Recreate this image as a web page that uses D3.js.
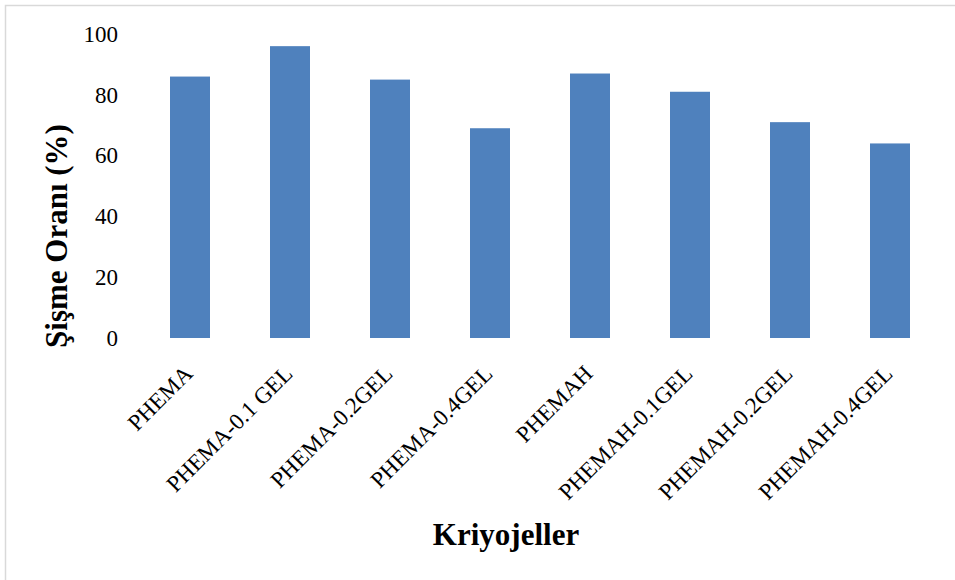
<!DOCTYPE html>
<html>
<head>
<meta charset="utf-8">
<script src="https://cdn.jsdelivr.net/npm/d3@7"></script>
<style>
  body { margin: 0; background: #fff; }
  text { font-family: "Liberation Serif", "Times New Roman", serif; }
</style>
</head>
<body>
<div id="chart"></div>
<script>
// data
const categories = ["PHEMA", "PHEMA-0.1 GEL", "PHEMA-0.2GEL", "PHEMA-0.4GEL",
  "PHEMAH", "PHEMAH-0.1GEL", "PHEMAH-0.2GEL", "PHEMAH-0.4GEL"];
const values = [86, 96, 85, 69, 87, 81, 71, 64];
const yTicks = [0, 20, 40, 60, 80, 100];

const width = 955, height = 580;
const margin = { top: 34, right: 15, bottom: 242, left: 140 };

const svg = d3.select("#chart")
    .append("svg")
    .attr("width", width)
    .attr("height", height);

// outer frame (only top/left edges visible in reference)
svg.append("rect")
    .attr("x", 5.5).attr("y", 5.5)
    .attr("width", width + 20).attr("height", height + 20)
    .attr("fill", "none")
    .attr("stroke", "#d9d9d9")
    .attr("stroke-width", 1.5);

const x = d3.scaleBand()
    .domain(categories)
    .range([margin.left, margin.left + 800])
    .paddingInner(0.6)
    .paddingOuter(0.3);

const y = d3.scaleLinear()
    .domain([0, 100])
    .range([height - margin.bottom, margin.top]);

// y axis: labels only
svg.append("g")
    .attr("transform", `translate(${margin.left - 22},0)`)
    .call(d3.axisLeft(y).tickValues(yTicks).tickSize(0).tickPadding(0))
    .call(g => g.select(".domain").remove())
    .call(g => g.selectAll("text")
        .attr("font-family", "Liberation Serif")
        .attr("font-size", "23px")
        .attr("fill", "#000"));

// bars
svg.append("g")
    .selectAll("rect")
    .data(values)
    .join("rect")
    .attr("x", (d, i) => x(categories[i]))
    .attr("y", d => y(d))
    .attr("width", x.bandwidth())
    .attr("height", d => y(0) - y(d))
    .attr("fill", "#4F81BD");

// rotated category labels
svg.append("g")
    .selectAll("text")
    .data(categories)
    .join("text")
    .attr("transform", d => `translate(${x(d) + x.bandwidth() / 2 + 4},${y(0) + 37}) rotate(-45)`)
    .attr("text-anchor", "end")
    .attr("font-size", "23px")
    .attr("fill", "#000")
    .text(d => d);

// axis titles
svg.append("text")
    .attr("x", 506)
    .attr("y", 545)
    .attr("text-anchor", "middle")
    .attr("font-size", "31px")
    .attr("font-weight", "bold")
    .text("Kriyojeller");

svg.append("text")
    .attr("transform", "translate(67,236) rotate(-90)")
    .attr("text-anchor", "middle")
    .attr("font-size", "31px")
    .attr("font-weight", "bold")
    .text("Şişme Oranı (%)");
</script>
</body>
</html>
